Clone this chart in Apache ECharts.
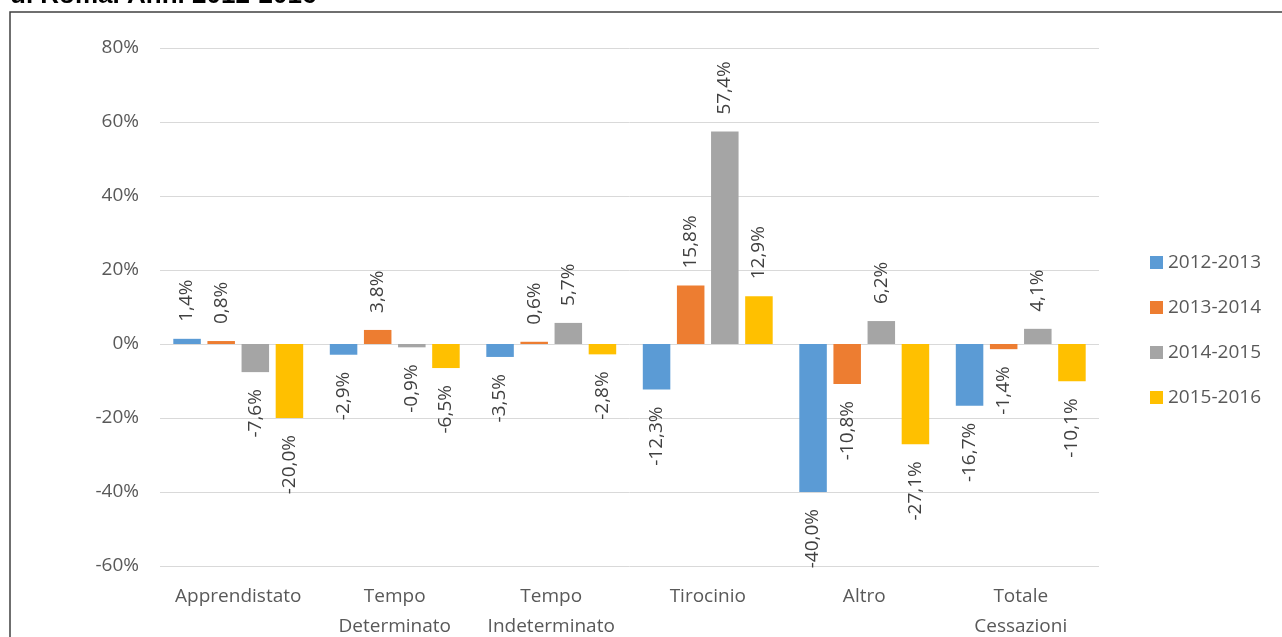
<!DOCTYPE html>
<html>
<head>
<meta charset="utf-8">
<script src="https://cdn.jsdelivr.net/npm/echarts@6/dist/echarts.min.js"></script>
<style>
html,body{margin:0;padding:0;background:#fff;overflow:hidden;}
#chart{width:1282px;height:637px;}
</style>
</head>
<body>
<div id="chart"></div>
<script>
const categories = ['Apprendistato', 'Tempo\nDeterminato', 'Tempo\nIndeterminato', 'Tirocinio', 'Altro', 'Totale\nCessazioni'];
const seriesNames = ['2012-2013', '2013-2014', '2014-2015', '2015-2016'];
const s2012_2013 = [1.4, -2.9, -3.5, -12.3, -40.0, -16.7];
const s2013_2014 = [0.8, 3.8, 0.6, 15.8, -10.8, -1.4];
const s2014_2015 = [-7.6, -0.9, 5.7, 57.4, 6.2, 4.1];
const s2015_2016 = [-20.0, -6.5, -2.8, 12.9, -27.1, -10.1];
const yTicks = { min: -60, max: 80, interval: 20 };
const titleText = 'di Roma. Anni 2012-2016';

const colors = ['#5B9BD5', '#ED7D31', '#A5A5A5', '#FFC000'];
const FONT = '"Open Sans", "Noto Sans", sans-serif';

function fmt(v) { return v.toFixed(1).replace('.', ',') + '%'; }

function buildData(arr) {
  return arr.map(v => ({
    value: v,
    label: v >= 0
      ? { position: 'top', align: 'left', verticalAlign: 'middle' }
      : { position: 'bottom', align: 'right', verticalAlign: 'middle' }
  }));
}

const allSeries = [s2012_2013, s2013_2014, s2014_2015, s2015_2016].map((arr, i) => ({
  name: seriesNames[i],
  type: 'bar',
  data: buildData(arr),
  barGap: '24%',
  barCategoryGap: '17%',
  itemStyle: { color: colors[i] },
  label: {
    show: true,
    rotate: 90,
    distance: 17,
    color: '#404040',
    fontFamily: FONT,
    fontSize: 19,
    formatter: p => fmt(p.value)
  }
}));

const chart = echarts.init(document.getElementById('chart'));
chart.setOption({
  animation: false,
  backgroundColor: '#fff',
  textStyle: { fontFamily: FONT },
  graphic: [
    { type: 'rect', z: -10, shape: { x: 10, y: 12, width: 1400, height: 800 },
      style: { fill: 'none', stroke: '#404040', lineWidth: 1.5 } },
    { type: 'text', x: 10, y: -4,
      style: { text: titleText, font: 'bold 26px "Liberation Sans", Arial, sans-serif', fill: '#000', verticalAlign: 'middle', align: 'left' } }
  ],
  grid: { left: 160, right: 183, top: 48, bottom: 71, containLabel: false, outerBoundsMode: 'none' },
  legend: {
    orient: 'vertical',
    left: 1150,
    top: 253,
    padding: 0,
    itemWidth: 13,
    itemHeight: 13,
    itemGap: 26,
    icon: 'rect',
    textStyle: { color: '#595959', fontSize: 19, fontFamily: FONT },
    data: seriesNames
  },
  xAxis: {
    type: 'category',
    data: categories,
    axisLine: { show: false, onZero: false },
    axisTick: { show: false },
    axisLabel: { interval: 0, color: '#595959', fontSize: 19, lineHeight: 30, margin: 16, fontFamily: FONT },
    splitLine: { show: false }
  },
  yAxis: {
    type: 'value',
    min: yTicks.min,
    max: yTicks.max,
    interval: yTicks.interval,
    axisLine: { show: false },
    axisTick: { show: false },
    axisLabel: { color: '#595959', fontSize: 19, margin: 21, fontFamily: FONT, formatter: v => v + '%' },
    splitLine: { lineStyle: { color: '#D9D9D9', width: 1 } }
  },
  series: allSeries
});
</script>
</body>
</html>
